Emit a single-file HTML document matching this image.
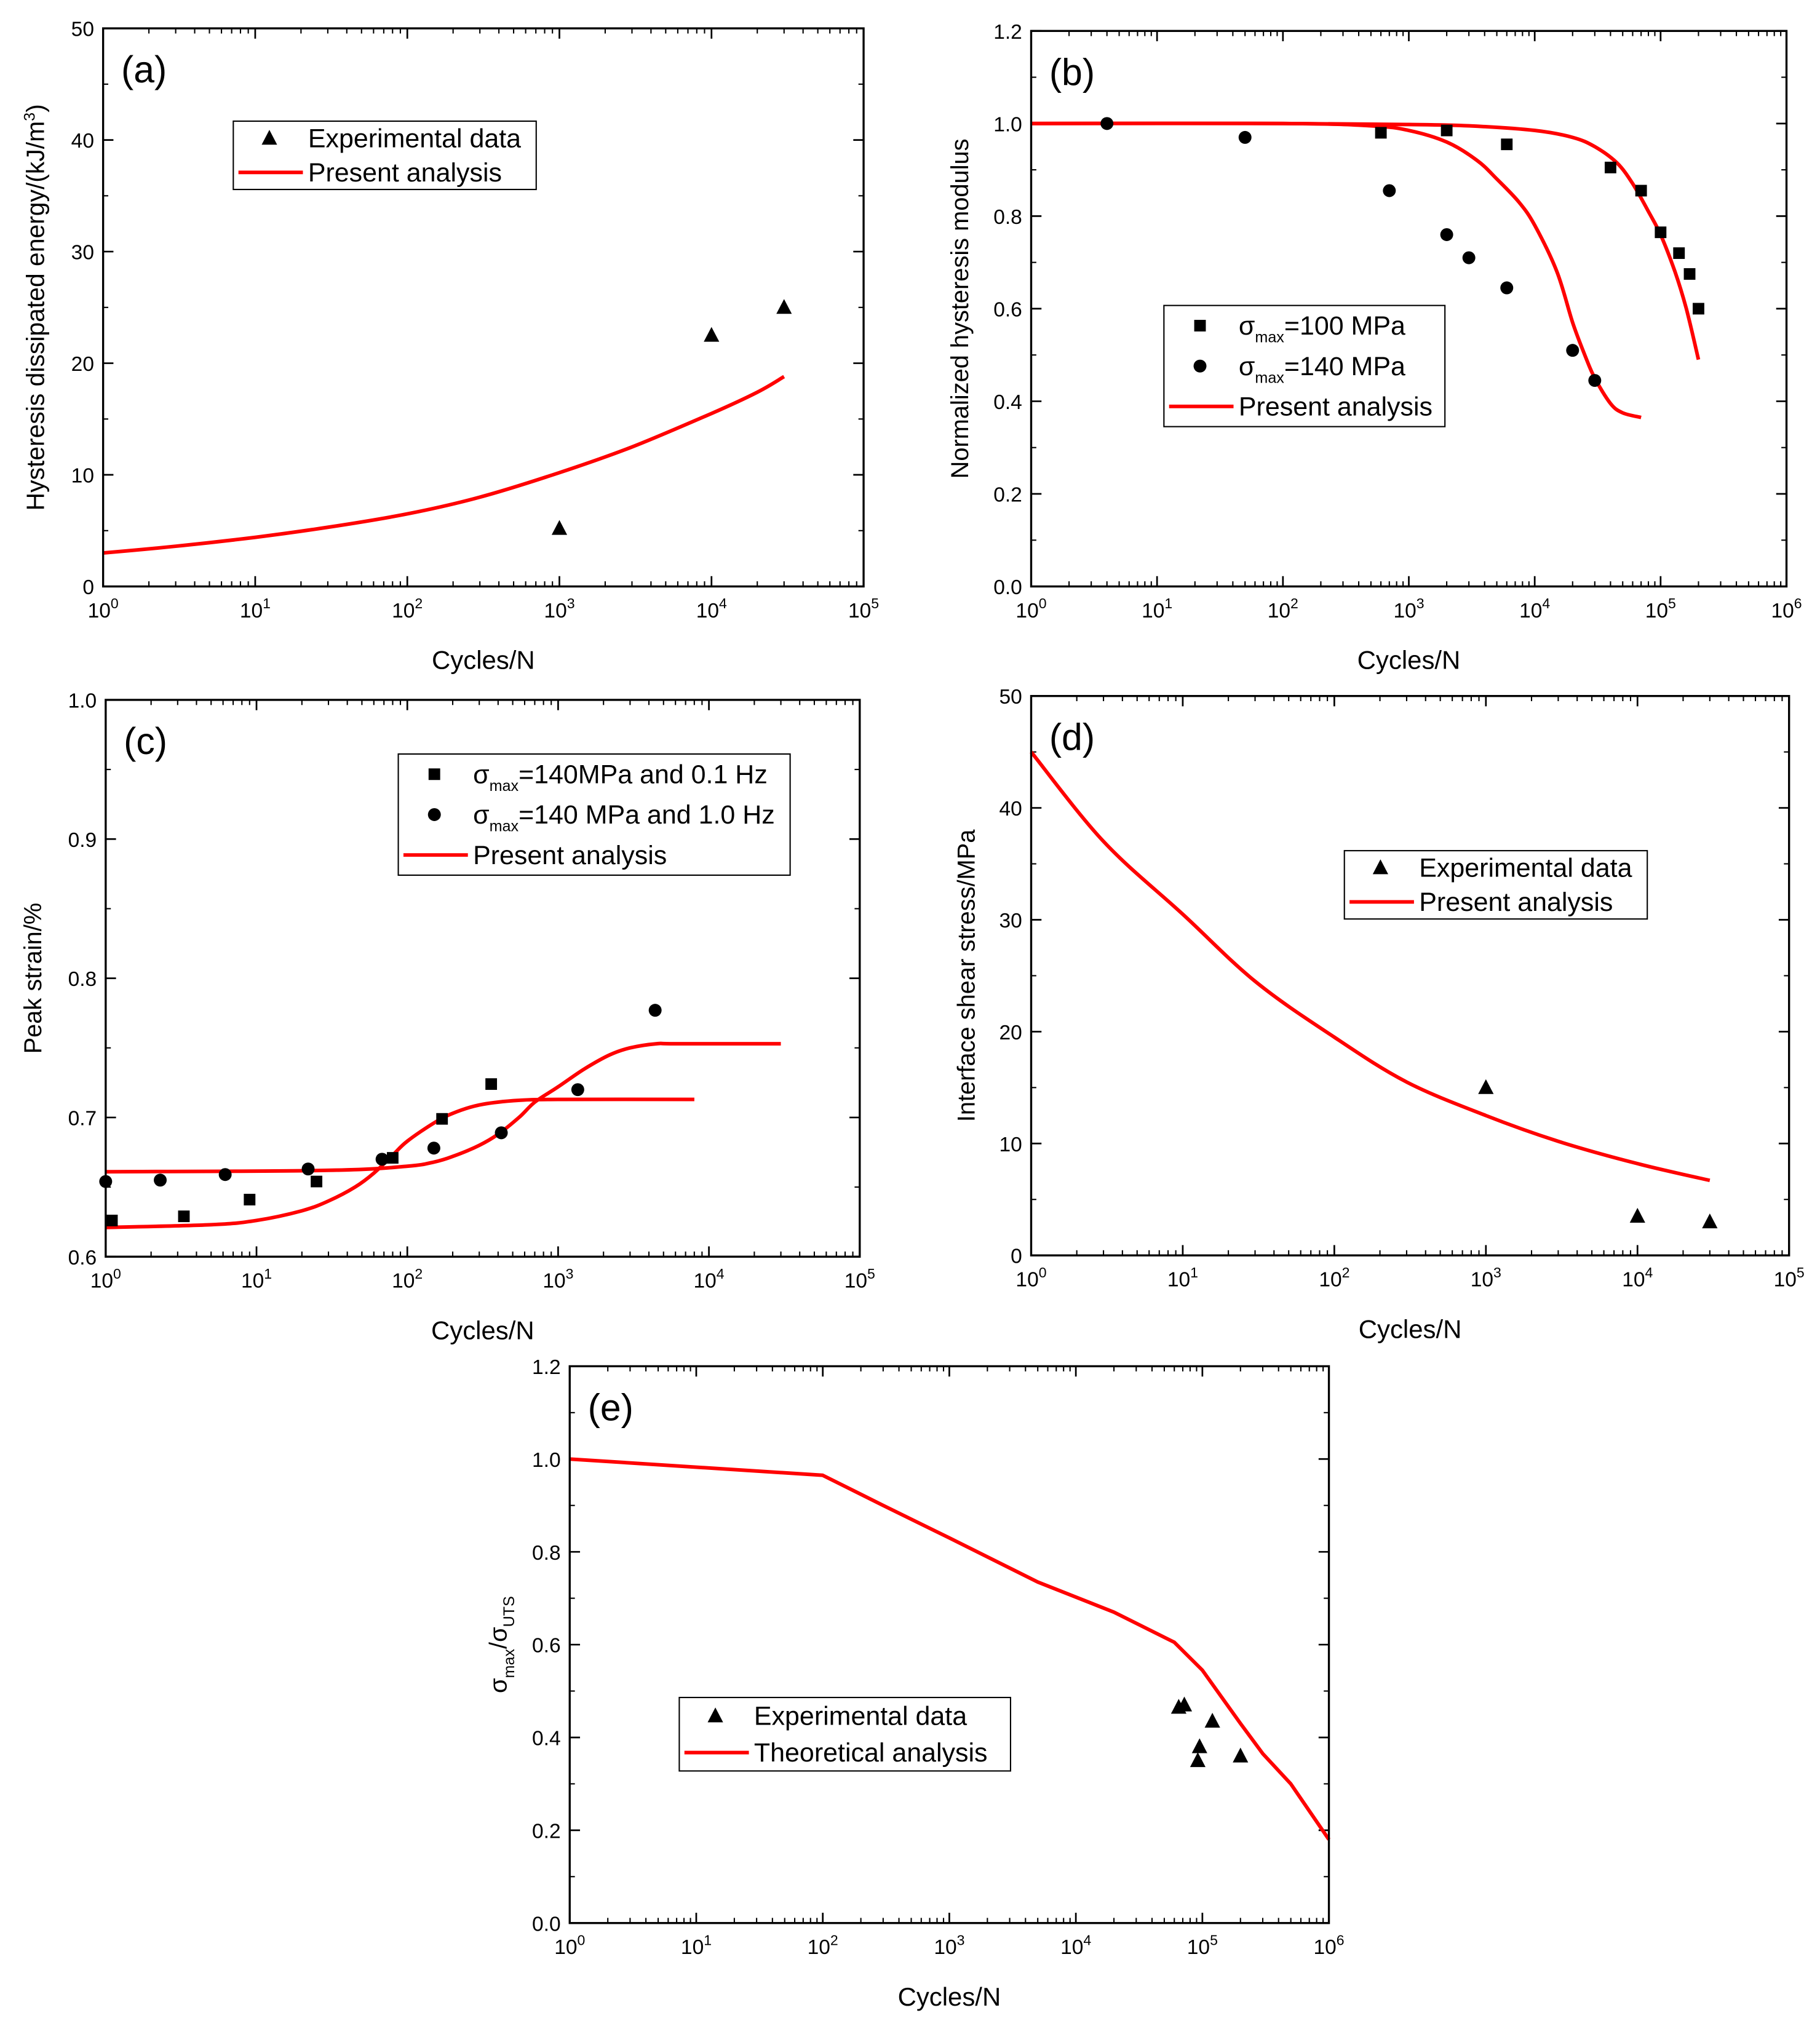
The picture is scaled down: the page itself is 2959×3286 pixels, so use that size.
<!DOCTYPE html>
<html><head><meta charset="utf-8"><style>
html,body{margin:0;padding:0;background:#fff}
svg{display:block}
text{font-family:"Liberation Sans",sans-serif;fill:#000}
</style></head><body>
<svg id="fig" width="2959" height="3286" viewBox="0 0 1412 1568" preserveAspectRatio="none" xmlns="http://www.w3.org/2000/svg"></svg>
<script>
// ---- Panel (a) data
const aExpX=[1e3,1e4,3e4];
const aExpY=[5.2,22.5,25];
const aFitX=[1,3,10,30,100,300,1000,3000,1e4,2e4,3e4];
const aFitY=[3.0,3.6,4.4,5.3,6.5,8.0,10.2,12.5,15.5,17.4,18.8];
// ---- Panel (b) data
const b100X=[600,2000,6000,4e4,7e4,1e5,1.4e5,1.7e5,2e5];
const b100Y=[0.98,0.985,0.955,0.905,0.855,0.765,0.72,0.675,0.60];
const b140X=[4,50,700,2000,3000,6000,2e4,3e4];
const b140Y=[1.0,0.97,0.855,0.76,0.71,0.645,0.51,0.445];
const bFit100X=[1,100,1000,3000,1e4,2e4,3e4,4.5e4,6e4,8e4,1e5,1.3e5,1.6e5,2e5];
const bFit100Y=[1.0,1.0,0.998,0.995,0.985,0.97,0.95,0.915,0.87,0.81,0.76,0.68,0.60,0.49];
const bFit140X=[1,100,500,1000,2000,3500,5000,7500,1e4,1.5e4,2e4,2.5e4,3e4,4e4,5e4,7e4];
const bFit140Y=[1.0,1.0,0.995,0.985,0.96,0.92,0.88,0.83,0.78,0.68,0.57,0.5,0.45,0.395,0.375,0.365];
// ---- Panel (c) data
const cSqX=[1.1,3.3,9,25,80,170,360];
const cSqY=[0.626,0.629,0.641,0.654,0.671,0.699,0.724];
const cCiX=[1,2.3,6.2,22,68,150,420,1350,4400];
const cCiY=[0.654,0.655,0.659,0.663,0.670,0.678,0.689,0.720,0.777];
const cFit1X=[1,5,10,20,30,45,60,80,100,150,200,300,500,1000,8000];
const cFit1Y=[0.621,0.623,0.626,0.633,0.640,0.650,0.660,0.673,0.683,0.696,0.703,0.709,0.712,0.713,0.713];
const cFit2X=[1,30,100,150,200,300,400,550,700,1000,1500,2200,3000,4500,6000,3e4];
const cFit2Y=[0.661,0.662,0.665,0.668,0.672,0.680,0.688,0.700,0.711,0.722,0.735,0.745,0.750,0.753,0.753,0.753];
// ---- Panel (d) data
const dExpX=[1e3,1e4,3e4];
const dExpY=[15,3.5,3];
const dFitX=[1,3,10,30,100,300,1000,3000,1e4,3e4];
const dFitY=[45,37,30.5,24.5,19.5,15.5,12.5,10.2,8.2,6.7];
// ---- Panel (e) data
const eExpX=[6.5e4,7.2e4,9.5e4,9.2e4,1.2e5,2e5];
const eExpY=[0.465,0.47,0.38,0.35,0.435,0.36];
const eFitX=[1,100,300,1000,5000,2e4,6e4,1e5,2e5,3e5,5e5,1e6];
const eFitY=[1.0,0.965,0.9,0.83,0.735,0.67,0.605,0.545,0.43,0.365,0.3,0.18];

const NS="http://www.w3.org/2000/svg";
const svg=document.getElementById('fig');
function mk(tag,attrs,parent){const e=document.createElementNS(NS,tag);for(const k in attrs)e.setAttribute(k,attrs[k]);(parent||svg).appendChild(e);return e;}
function smooth(P){
  let d='M'+P[0][0].toFixed(1)+','+P[0][1].toFixed(1);
  for(let i=0;i<P.length-1;i++){
    const p0=P[Math.max(0,i-1)],p1=P[i],p2=P[i+1],p3=P[Math.min(P.length-1,i+2)];
    const c1=[p1[0]+(p2[0]-p0[0])/6,p1[1]+(p2[1]-p0[1])/6];
    const c2=[p2[0]-(p3[0]-p1[0])/6,p2[1]-(p3[1]-p1[1])/6];
    d+=` C${c1[0].toFixed(1)},${c1[1].toFixed(1)} ${c2[0].toFixed(1)},${c2[1].toFixed(1)} ${p2[0].toFixed(1)},${p2[1].toFixed(1)}`;
  }
  return d;
}

function panel(p){
  const g=mk('g',{});
  
  
  const L=p.box[0],T=p.box[1],R=p.box[2],B=p.box[3];
  const lx=v=>L+(Math.log10(v)-p.xd[0])/(p.xd[1]-p.xd[0])*(R-L);
  const ly=v=>B-(v-p.yd[0])/(p.yd[1]-p.yd[0])*(B-T);
  for(let d=p.xd[0];d<=p.xd[1];d++){
    const x=L+(d-p.xd[0])/(p.xd[1]-p.xd[0])*(R-L);
    mk('line',{x1:x,y1:B,x2:x,y2:B-8,stroke:'#000','stroke-width':1.3},g);
    mk('line',{x1:x,y1:T,x2:x,y2:T+8,stroke:'#000','stroke-width':1.3},g);
    const t=mk('text',{x:x,y:B+24,'text-anchor':'middle','font-size':16},g);
    t.textContent='10';
    const s=mk('tspan',{dy:-7,'font-size':11},t);s.textContent=String(d);
    
    
    if(d<p.xd[1]) for(let k=2;k<=9;k++){
      const xm=lx(k*Math.pow(10,d));
      mk('line',{x1:xm,y1:B,x2:xm,y2:B-4,stroke:'#000','stroke-width':1},g);
      mk('line',{x1:xm,y1:T,x2:xm,y2:T+4,stroke:'#000','stroke-width':1},g);
    }
  }
  p.yt.forEach((v,i)=>{
    const y=ly(v);
    mk('line',{x1:L,y1:y,x2:L+8,y2:y,stroke:'#000','stroke-width':1.3},g);
    mk('line',{x1:R,y1:y,x2:R-8,y2:y,stroke:'#000','stroke-width':1.3},g);
    const t=mk('text',{x:L-7,y:y+6,'text-anchor':'end','font-size':16},g);
    t.textContent=p.ytl[i];
    
    
    if(i<p.yt.length-1){const ym=ly((v+p.yt[i+1])/2);
      mk('line',{x1:L,y1:ym,x2:L+4,y2:ym,stroke:'#000','stroke-width':1},g);
      mk('line',{x1:R,y1:ym,x2:R-4,y2:ym,stroke:'#000','stroke-width':1},g);}
  });
  p.lines.forEach(ln=>{
    const P=ln[0].map((x,i)=>[lx(x),ly(ln[1][i])]);
    const pl=mk('path',{d:ln[2]?P.map((q,i)=>(i?'L':'M')+q[0].toFixed(1)+','+q[1].toFixed(1)).join(' '):smooth(P),fill:'none',stroke:'#f00','stroke-width':2.8,'stroke-linejoin':'round'},g);
    
    
  });
  p.marks.forEach(m=>{
    m[0].forEach((x,i)=>{
      const cx=lx(x),cy=ly(m[1][i]);let e;
      if(m[2]==='tri') e=mk('polygon',{points:`${cx},${cy-6.5} ${cx-6},${cy+5} ${cx+6},${cy+5}`,fill:'#000'},g);
      else if(m[2]==='sq') e=mk('rect',{x:cx-4.5,y:cy-4.5,width:9,height:9,fill:'#000'},g);
      else e=mk('circle',{cx:cx,cy:cy,r:5,fill:'#000'},g);
      
      
    });
  });
  mk('rect',{x:L,y:T,width:R-L,height:B-T,fill:'none',stroke:'#000','stroke-width':1.6},g);
  const pl=mk('text',{x:L+14,y:T+42,'font-size':29},g);pl.textContent='('+p.id+')';
  
  
  const xt=mk('text',{x:(L+R)/2,y:B+64,'text-anchor':'middle','font-size':20},g);xt.textContent='Cycles/N';
  
  
  const yt=mk('text',{x:0,y:0,'text-anchor':'middle','font-size':p.ytfs||19,transform:`translate(${p.ytx},${(T+B)/2}) rotate(-90)`},g);
  if(p.ytitleHTML){p.ytitleHTML(yt);}else yt.textContent=p.ytitle;
  
  
  const lg=mk('g',{},g);
  
  
  const lb=p.leg.box;
  mk('rect',{x:lb[0],y:lb[1],width:lb[2]-lb[0],height:lb[3]-lb[1],fill:'#fff',stroke:'#000','stroke-width':1},lg);
  const rh=(lb[3]-lb[1])/p.leg.items.length;
  p.leg.items.forEach((it,i)=>{
    const cy=lb[1]+rh*(i+0.5);const sx=lb[0]+28;
    if(it.k==='line') mk('line',{x1:lb[0]+4,y1:cy,x2:lb[0]+54,y2:cy,stroke:'#f00','stroke-width':2.8},lg);
    else if(it.k==='tri') mk('polygon',{points:`${sx},${cy-6.5} ${sx-6},${cy+5} ${sx+6},${cy+5}`,fill:'#000'},lg);
    else if(it.k==='sq') mk('rect',{x:sx-4.5,y:cy-4.5,width:9,height:9,fill:'#000'},lg);
    else mk('circle',{cx:sx,cy:cy,r:5,fill:'#000'},lg);
    const t=mk('text',{x:lb[0]+58,y:cy+7,'font-size':20.5},lg);
    if(it.sig){const a=mk('tspan',{},t);a.textContent='σ';const b=mk('tspan',{dy:6,'font-size':12},t);b.textContent='max';const c=mk('tspan',{dy:-6},t);c.textContent=it.t;}
    else t.textContent=it.t;
    
    
  });
}

panel({id:'a',box:[80,22,670,455],xd:[0,5],yd:[0,50],yt:[0,10,20,30,40,50],ytl:['0','10','20','30','40','50'],
  lines:[[aFitX,aFitY]],marks:[[aExpX,aExpY,'tri']],ytx:34,ytfs:19.5,
  ytitleHTML:t=>{const a=mk('tspan',{},t);a.textContent='Hysteresis dissipated energy/(kJ/m';const b=mk('tspan',{dy:-7,'font-size':12},t);b.textContent='3';const c=mk('tspan',{dy:7},t);c.textContent=')';},
  leg:{box:[181,94,416,147],items:[{k:'tri',t:'Experimental data'},{k:'line',t:'Present analysis'}]}});
panel({id:'b',box:[800,24,1386,455],xd:[0,6],yd:[0,1.2],yt:[0,0.2,0.4,0.6,0.8,1.0,1.2],ytl:['0.0','0.2','0.4','0.6','0.8','1.0','1.2'],
  lines:[[bFit100X,bFit100Y],[bFit140X,bFit140Y]],marks:[[b100X,b100Y,'sq'],[b140X,b140Y,'ci']],ytx:751,ytitle:'Normalized hysteresis modulus',
  leg:{box:[903,237,1121,331],items:[{k:'sq',sig:1,t:'=100 MPa'},{k:'ci',sig:1,t:'=140 MPa'},{k:'line',t:'Present analysis'}]}});
panel({id:'c',box:[82,543,667,975],xd:[0,5],yd:[0.6,1.0],yt:[0.6,0.7,0.8,0.9,1.0],ytl:['0.6','0.7','0.8','0.9','1.0'],
  lines:[[cFit1X,cFit1Y],[cFit2X,cFit2Y]],marks:[[cSqX,cSqY,'sq'],[cCiX,cCiY,'ci']],ytx:32,ytitle:'Peak strain/%',
  leg:{box:[309,585,613,679],items:[{k:'sq',sig:1,t:'=140MPa and 0.1 Hz'},{k:'ci',sig:1,t:'=140 MPa and 1.0 Hz'},{k:'line',t:'Present analysis'}]}});
panel({id:'d',box:[800,540,1388,974],xd:[0,5],yd:[0,50],yt:[0,10,20,30,40,50],ytl:['0','10','20','30','40','50'],
  lines:[[dFitX,dFitY]],marks:[[dExpX,dExpY,'tri']],ytx:756,ytitle:'Interface shear stress/MPa',
  leg:{box:[1043,660,1278,713],items:[{k:'tri',t:'Experimental data'},{k:'line',t:'Present analysis'}]}});
panel({id:'e',box:[442,1060,1031,1492],xd:[0,6],yd:[0,1.2],yt:[0,0.2,0.4,0.6,0.8,1.0,1.2],ytl:['0.0','0.2','0.4','0.6','0.8','1.0','1.2'],
  lines:[[eFitX,eFitY,true]],marks:[[eExpX,eExpY,'tri']],ytx:393,
  ytitleHTML:t=>{const a=mk('tspan',{},t);a.textContent='σ';const b=mk('tspan',{dy:6,'font-size':12},t);b.textContent='max';const c=mk('tspan',{dy:-6},t);c.textContent='/σ';const d=mk('tspan',{dy:6,'font-size':12},t);d.textContent='UTS';},
  leg:{box:[527,1317,784,1374],items:[{k:'tri',t:'Experimental data'},{k:'line',t:'Theoretical analysis'}]}});
</script>
</body></html>
